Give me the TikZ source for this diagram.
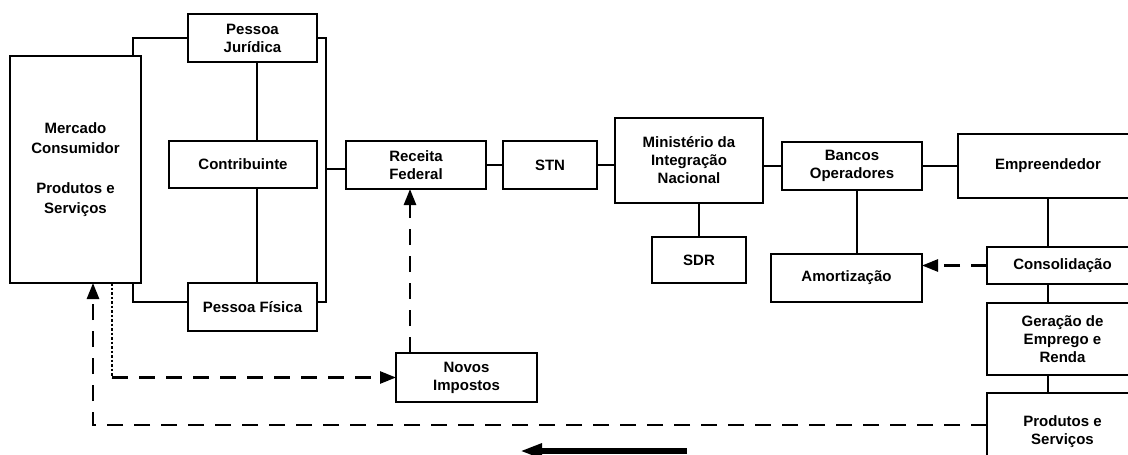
\documentclass[tikz,border=0pt]{standalone}
\usepackage{fontspec}
\setmainfont{Liberation Sans}
\usetikzlibrary{arrows.meta}
\begin{document}
\begin{tikzpicture}[x=1pt,y=-1pt,
  box/.style={draw=black,line width=1.6pt,fill=white,inner sep=0pt,outer sep=0pt,align=center,
    font=\bfseries\fontsize{15}{18}\selectfont},
  link/.style={draw=black,line width=1.5pt},
  flow/.style={draw=black,line width=2.6pt,dash pattern=on 16pt off 11pt},
  dotline/.style={draw=black,line width=1.4pt,dash pattern=on 2.5pt off 2pt},
  tip/.style={-{Triangle[length=16pt,width=12pt]}},
  bigarrow/.style={draw=black,line width=5.5pt,-{Triangle[length=22pt,width=14pt]}}
]
\useasboundingbox (0,0) rectangle (1128,455);
\clip (0,0) rectangle (1128,455);
\fill[white] (0,0) rectangle (1128,455);

% boxes
\node[box,minimum width=131pt,minimum height=227pt,font=\bfseries\fontsize{15}{20}\selectfont] (merc) at (75.5,169.5) {Mercado\\Consumidor\\[20pt]Produtos e\\Serviços};
\node[box,minimum width=129pt,minimum height=48pt] (pj) at (252.5,38) {Pessoa\\Jurídica};
\node[box,minimum width=148pt,minimum height=47pt] (contrib) at (243,164.5) {Contribuinte};
\node[box,minimum width=129pt,minimum height=48pt] (pf) at (252.5,307) {Pessoa Física};
\node[box,minimum width=140pt,minimum height=48pt] (receita) at (416,165) {Receita\\Federal};
\node[box,minimum width=94pt,minimum height=48pt] (stn) at (550,165) {STN};
\node[box,minimum width=148pt,minimum height=85pt] (min) at (689,160.5) {Ministério da\\Integração\\Nacional};
\node[box,minimum width=94pt,minimum height=46pt] (sdr) at (699,260) {SDR};
\node[box,minimum width=140pt,minimum height=48pt] (bancos) at (852,166) {Bancos\\Operadores};
\node[box,minimum width=151pt,minimum height=48pt] (amort) at (846.5,278) {Amortização};
\node[box,minimum width=180pt,minimum height=64pt] (empre) at (1048,166) {Empreendedor};
\node[box,minimum width=151pt,minimum height=37pt] (cons) at (1062.5,265.5) {Consolidação};
\node[box,minimum width=151pt,minimum height=72pt] (ger) at (1062.5,339) {Geração de\\Emprego e\\Renda};
\node[box,minimum width=151pt,minimum height=77pt] (prod) at (1062.5,431.5) {Produtos e\\Serviços};
\node[box,minimum width=141pt,minimum height=49pt] (novos) at (466.5,377.5) {Novos\\Impostos};

% helper coordinates
\coordinate (xa) at (133,0);
\coordinate (bus) at (326,0);
\coordinate (xb) at (257,0);
\coordinate (xc) at (857,0);
\coordinate (xd) at (93,0);
\coordinate (xe) at (112,0);
\coordinate (xf) at (410,0);
\coordinate (pfl) at ([yshift=5pt]pf.west);
\coordinate (pfr) at ([yshift=5pt]pf.east);
\coordinate (rw) at ([yshift=-4pt]receita.west);
\coordinate (pl) at ([yshift=6.5pt]prod.west);
\coordinate (ba1) at (687,451);
\coordinate (ba2) at (520,451);

% solid connectors
\draw[link] (merc.north -| xa) |- (pj.west);
\draw[link] (merc.south -| xa) |- (pfl);
\draw[link] (pj.east) -| (pfr -| bus) -- (pfr);
\draw[link] (rw -| bus) -- (rw);
\draw[link] (pj.south -| xb) -- (contrib.north -| xb);
\draw[link] (contrib.south -| xb) -- (pf.north -| xb);
\draw[link] (receita.east) -- (stn.west);
\draw[link] (stn.east) -- (stn.east -| min.west);
\draw[link] (min.east |- bancos.west) -- (bancos.west);
\draw[link] (bancos.east) -- (bancos.east -| empre.west);
\draw[link] (sdr.north) -- (sdr.north |- min.south);
\draw[link] (bancos.south -| xc) -- (amort.north -| xc);
\draw[link] (empre.south) -- (empre.south |- cons.north);
\draw[link] (cons.south -| empre.south) -- (ger.north -| empre.south);
\draw[link] (ger.south -| empre.south) -- (prod.north -| empre.south);

% dashed flows
\draw[flow,tip] (cons.west) -- (cons.west -| amort.east);
\draw[flow,tip] (pl) -| (merc.south -| xd);
\draw[dotline] (merc.south -| xe) -- (novos.west -| xe);
\draw[flow,tip] (novos.west -| xe) -- (novos.west);
\draw[flow,tip] (novos.north -| xf) -- (receita.south -| xf);

% free arrow
\draw[bigarrow] (ba1) -- (ba2);
\end{tikzpicture}
\end{document}
